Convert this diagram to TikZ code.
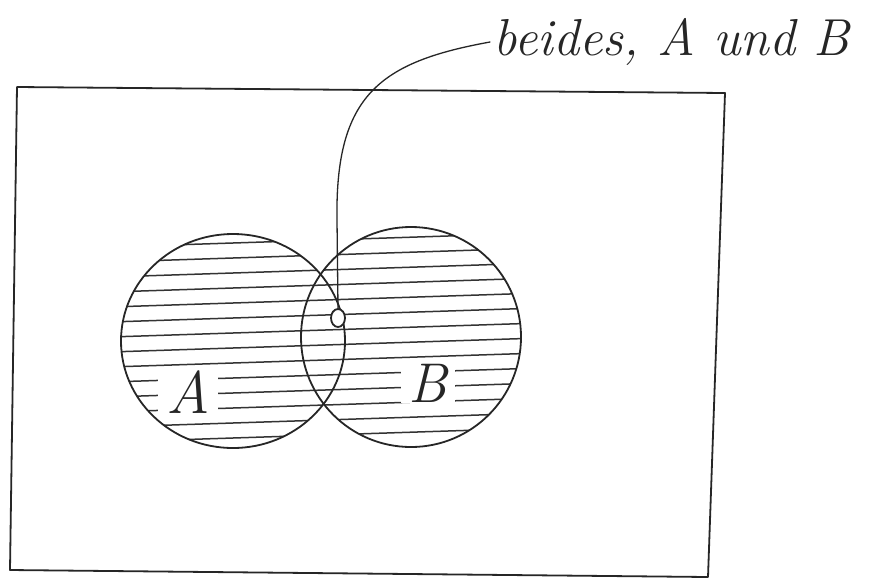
\documentclass[tikz,border=0pt]{standalone}
\usetikzlibrary{shapes.geometric}
\begin{document}
\begin{tikzpicture}[x=1pt,y=-1pt,
  pen/.style={draw=black!85,line width=1.8pt,line cap=round,line join=round},
  hatch/.style={draw=black!80,line width=1.5pt,line cap=round},
  hand/.style={font=\itshape,text=black!85}]
\useasboundingbox (0,0) rectangle (869,582);
\fill[white] (0,0) rectangle (869,582);
% frame
\coordinate (f1) at (17,87);
\coordinate (f2) at (725,93);
\coordinate (f3) at (708,577);
\coordinate (f4) at (10,570);
\draw[pen] (f1) -- (f2) -- (f3) -- (f4) -- cycle;
% hatching
\begin{scope}
  \clip (233,341) ellipse [x radius=112, y radius=107] (411,337) ellipse [x radius=110, y radius=110];
  \foreach \y in {240,255,...,450} {
    \draw[hatch] (110,\y+7) -- (540,\y-7);
  }
\end{scope}
% labels with gaps in hatching
\node[hand,fill=white,inner xsep=8pt,inner ysep=1pt,font=\fontsize{60}{64}\selectfont\itshape] (la) at (188,392) {A};
\node[hand,fill=white,inner xsep=8pt,inner ysep=1pt,font=\fontsize{56}{60}\selectfont\itshape] (lb) at (428,383) {B};
% sets
\node[pen,ellipse,minimum width=224pt,minimum height=214pt,inner sep=0pt] (A) at (233,341) {};
\node[pen,ellipse,minimum width=220pt,minimum height=220pt,inner sep=0pt] (B) at (411,337) {};
% small circle and leader
\node[pen,ellipse,fill=white,minimum width=14pt,minimum height=18pt,inner sep=0pt] (c) at (338,318) {};
\node[hand,anchor=west,font=\fontsize{52}{56}\selectfont\itshape] (t) at (490,42) {beides, A und B};
\draw[pen,line width=1.3pt] (c.north) -- (337,220) .. controls (335,95) and (380,62) .. (t.west);
\end{tikzpicture}
\end{document}
